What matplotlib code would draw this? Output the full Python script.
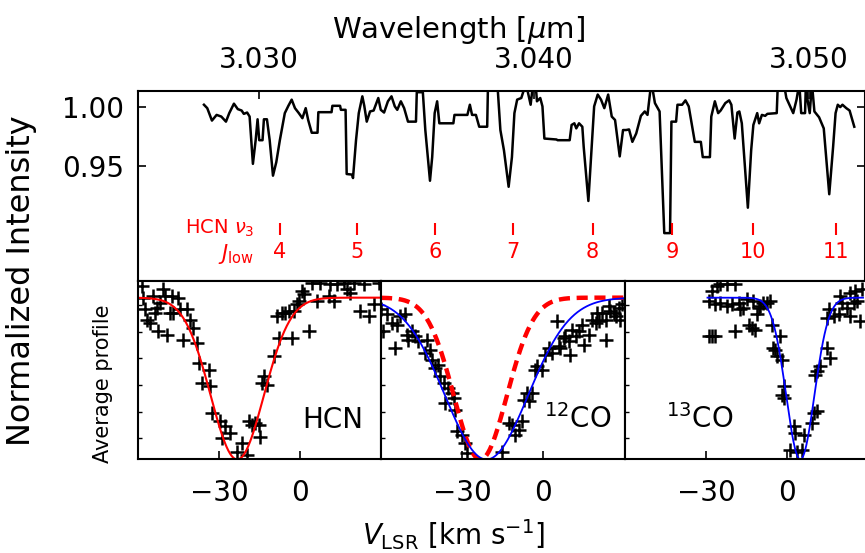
import numpy as np
import matplotlib.pyplot as plt

plt.rcParams["font.family"] = "DejaVu Sans"
plt.rcParams["mathtext.fontset"] = "dejavusans"

# ---- top panel: spectrum around 3.03-3.05 micron ----
wave = [3.02800, 3.02812, 3.02829, 3.02846, 3.02863, 3.02880, 3.02892, 3.02909, 3.02923, 3.02937,
        3.02945, 3.02957, 3.02966, 3.02978, 3.02988, 3.02995, 3.03001, 3.03013, 3.03018, 3.03029,
        3.03039, 3.03051, 3.03063, 3.03076, 3.03094, 3.03107, 3.03119, 3.03131, 3.03145, 3.03158,
        3.03170, 3.03179, 3.03192, 3.03213, 3.03216, 3.03264, 3.03267, 3.03295, 3.03298, 3.03315,
        3.03319, 3.03339, 3.03342, 3.03353, 3.03363, 3.03376, 3.03383, 3.03392, 3.03404, 3.03417,
        3.03434, 3.03443, 3.03455, 3.03469, 3.03482, 3.03494, 3.03503, 3.03516, 3.03528, 3.03542,
        3.03571, 3.03574, 3.03596, 3.03605, 3.03622, 3.03630, 3.03639, 3.03648, 3.03656, 3.03707,
        3.03711, 3.03758, 3.03767, 3.03775, 3.03789, 3.03801, 3.03830, 3.03833, 3.03867, 3.03878,
        3.03891, 3.03908, 3.03920, 3.03929, 3.03939, 3.03954, 3.03971, 3.03988, 3.03997, 3.04006,
        3.04011, 3.04023, 3.04031, 3.04038, 3.04082, 3.04086, 3.04130, 3.04137, 3.04147, 3.04154,
        3.04164, 3.04176, 3.04181, 3.04198, 3.04210, 3.04219, 3.04232, 3.04244, 3.04256, 3.04270,
        3.04283, 3.04295, 3.04312, 3.04324, 3.04335, 3.04346, 3.04358, 3.04372, 3.04389, 3.04403,
        3.04413, 3.04423, 3.04428, 3.04440, 3.04457, 3.04474, 3.04495, 3.04500, 3.04517, 3.04522,
        3.04539, 3.04551, 3.04563, 3.04585, 3.04607, 3.04614, 3.04640, 3.04645, 3.04658, 3.04670,
        3.04679, 3.04696, 3.04710, 3.04718, 3.04730, 3.04740, 3.04747, 3.04756, 3.04778, 3.04790,
        3.04798, 3.04812, 3.04819, 3.04829, 3.04841, 3.04849, 3.04883, 3.04887, 3.04909, 3.04918,
        3.04935, 3.04943, 3.04955, 3.04965, 3.04972, 3.04986, 3.04989, 3.04994, 3.05003, 3.05011,
        3.05020, 3.05037, 3.05054, 3.05074, 3.05088, 3.05097, 3.05105, 3.05114, 3.05122, 3.05136,
        3.05148, 3.05165]
flux = [1.0020, 0.9991, 0.9886, 0.9934, 0.9920, 0.9877, 0.9949, 1.0029, 0.9983, 0.9971,
        0.9943, 0.9954, 0.9920, 0.9520, 0.9720, 0.9897, 0.9720, 0.9720, 0.9897, 0.9897,
        0.9720, 0.9420, 0.9534, 0.9720, 0.9949, 1.0011, 1.0063, 0.9991, 0.9949, 0.9906,
        0.9991, 0.9891, 0.9783, 0.9783, 0.9957, 0.9957, 1.0011, 1.0011, 0.9977, 0.9977,
        0.9434, 0.9429, 0.9400, 0.9720, 0.9949, 1.0091, 1.0011, 0.9877, 0.9963, 0.9971,
        1.0077, 0.9977, 0.9954, 1.0049, 1.0091, 1.0006, 0.9977, 1.0049, 0.9991, 0.9877,
        0.9877, 1.0126, 1.0126, 0.9806, 0.9377, 0.9577, 0.9949, 1.0049, 0.9863, 0.9863,
        0.9934, 0.9934, 1.0020, 0.9934, 0.9934, 0.9834, 0.9834, 1.0200, 1.0200, 0.9806,
        0.9634, 0.9326, 0.9577, 0.9949, 1.0063, 1.0077, 1.0200, 1.0020, 1.0200, 1.0200,
        1.0049, 1.0077, 1.0006, 0.9734, 0.9726, 0.9720, 0.9720, 0.9849, 0.9863, 0.9820,
        0.9863, 0.9834, 0.9663, 0.9206, 0.9663, 1.0006, 1.0106, 1.0063, 0.9991, 1.0106,
        0.9920, 0.9891, 0.9583, 0.9806, 0.9806, 0.9811, 0.9706, 0.9777, 0.9926, 0.9963,
        0.9934, 1.0134, 1.0200, 1.0034, 0.9963, 0.8934, 0.8934, 0.9877, 0.9877, 1.0020,
        1.0020, 1.0057, 1.0006, 0.9706, 0.9706, 0.9577, 0.9577, 0.9920, 1.0049, 0.9949,
        0.9971, 1.0034, 1.0057, 1.0020, 0.9734, 0.9954, 0.9963, 0.9863, 0.9149, 0.9634,
        0.9849, 0.9949, 0.9863, 0.9934, 0.9926, 0.9943, 0.9949, 1.0200, 1.0200, 1.0077,
        0.9991, 0.9949, 1.0063, 1.0200, 0.9949, 0.9949, 1.0200, 1.0077, 0.9949, 1.0200,
        0.9963, 0.9914, 0.9820, 0.9263, 0.9663, 0.9949, 1.0020, 1.0000, 1.0020, 0.9991,
        0.9971, 0.9834]

# HCN nu3 line positions and J_low
line_wave = [3.03076, 3.03358, 3.03642, 3.03925, 3.04213, 3.04503, 3.04798, 3.05097]
line_j = [4, 5, 6, 7, 8, 9, 10, 11]

# ---- bottom panels: average line profiles ----
hcn_v = [-58.6, -58.0, -57.4, -56.8, -55.6, -54.3, -53.7, -53.1, -52.5, -51.9,
         -50.6, -50.0, -49.4, -48.2, -47.5, -46.9, -45.1, -44.4, -43.2, -42.0,
         -40.7, -39.5, -38.3, -37.6, -36.4, -33.9, -33.3, -32.7, -29.6, -27.8,
         -25.9, -29.0, -23.5, -21.6, -19.8, -19.1, -17.9, -16.7, -15.4, -14.8,
         -14.2, -13.6, -12.3, -9.9, -8.6, -8.0, -6.8, -5.6, -4.3, -3.1,
         -2.5, -1.2, -0.6, 0.6, 1.2, 3.1, 4.3, 6.2, 7.4, 10.5,
         11.1, 12.3, 13.6, 16.0, 17.3, 18.5, 19.8, 22.2, 23.5, 25.3,
         27.2, 29.0]
hcn_y = [1.072, 1.000, 0.927, 0.865, 0.845, 1.010, 0.907, 0.938, 0.793, 0.969,
         1.051, 1.010, 0.772, 0.907, 1.010, 0.907, 1.000, 0.927, 0.741, 0.927,
         0.865, 0.814, 0.721, 0.597, 0.473, 0.555, 0.452, 0.286, 0.235, 0.204,
         0.162, 0.131, 0.049, 0.100, 0.028, 0.235, 0.214, 0.224, 0.214, 0.142,
         0.473, 0.514, 0.462, 0.638, 0.886, 0.752, 0.907, 0.907, 0.917, 0.752,
         0.917, 0.958, 0.979, 1.041, 1.020, 0.793, 1.093, 0.979, 1.093, 1.010,
         1.083, 0.979, 1.083, 1.093, 1.051, 1.031, 1.093, 0.917, 1.083, 0.886,
         0.958, 1.093]

co12_v = [-60.0, -59.1, -57.9, -56.0, -54.8, -54.2, -52.9, -51.1, -50.5, -49.9,
          -48.6, -47.4, -46.2, -43.7, -43.1, -41.9, -41.2, -40.0, -38.8, -38.1,
          -36.9, -36.3, -35.1, -33.8, -33.2, -32.6, -32.0, -30.1, -28.9, -28.3,
          -15.3, -12.8, -11.6, -10.4, -9.1, -7.9, -7.3, -6.1, -5.4, -4.2,
          -3.0, -2.3, -0.5, 0.7, 2.0, 3.2, 5.1, 5.7, 6.3, 7.5,
          8.1, 9.4, 10.0, 10.6, 11.9, 13.1, 14.3, 14.9, 16.8, 18.0,
          19.3, 19.9, 20.5, 21.7, 23.0, 23.0, 24.2, 24.8, 26.1, 26.7,
          27.9, 28.5, 29.1]
co12_y = [0.927, 0.793, 0.896, 0.845, 0.690, 0.834, 0.886, 0.896, 0.772, 0.741,
          0.793, 0.762, 0.731, 0.659, 0.741, 0.679, 0.617, 0.566, 0.586, 0.514,
          0.473, 0.348, 0.442, 0.410, 0.379, 0.307, 0.173, 0.152, 0.100, 0.038,
          0.049, 0.224, 0.214, 0.152, 0.183, 0.235, 0.369, 0.410, 0.359, 0.410,
          0.555, 0.576, 0.555, 0.648, 0.690, 0.659, 0.855, 0.700, 0.690, 0.752,
          0.762, 0.731, 0.648, 0.803, 0.762, 0.793, 0.834, 0.710, 0.772, 0.865,
          0.845, 0.907, 0.855, 0.907, 0.741, 0.865, 0.948, 0.917, 0.907, 0.886,
          0.938, 0.865, 0.958]

co13_v = [-29.1, -27.9, -26.7, -27.9, -26.0, -24.8, -22.4, -19.3, -29.1, -26.7,
          -24.8, -22.4, -20.5, -19.3, -18.0, -17.4, -16.2, -14.9, -14.3, -13.1,
          -12.5, -11.8, -11.2, -10.6, -10.0, -8.8, -7.5, -6.3, -5.7, -5.1,
          -4.4, -3.8, -2.6, -2.0, -1.4, -2.0, -1.4, 2.3, 3.0, 1.1,
          3.6, 5.4, 6.1, 9.1, 9.8, 11.0, 10.4, 11.0, 12.2, 14.7,
          15.9, 14.7, 15.3, 17.2, 19.0, 19.6, 20.2, 22.1, 23.3, 23.3,
          24.6, 25.2, 25.8, 27.0, 27.7]
co13_y = [0.762, 0.762, 0.762, 1.041, 1.072, 1.083, 1.083, 1.083, 0.979, 0.958,
          0.969, 0.948, 0.958, 0.793, 0.969, 0.927, 0.938, 0.989, 0.834, 0.814,
          0.979, 0.803, 0.896, 0.938, 0.948, 0.969, 0.969, 0.979, 0.834, 0.690,
          0.679, 0.638, 0.762, 0.617, 0.452, 0.400, 0.379, 0.204, 0.162, 0.059,
          0.049, 0.059, 0.152, 0.224, 0.286, 0.297, 0.524, 0.545, 0.576, 0.690,
          0.628, 0.876, 0.927, 0.886, 0.896, 1.010, 0.969, 0.938, 0.886, 1.031,
          0.969, 1.041, 0.979, 0.855, 1.051]

# gaussian fits: (centre km/s, sigma km/s)
hcn_fit = (-23.3, 9.8)
co12_fit = (-21.0, 15.3)
co13_fit = (4.8, 5.2)


def gauss(v, c, s):
    return 1.0 - np.exp(-0.5 * ((v - c) / s) ** 2)


fig = plt.figure(figsize=(8.65, 5.53), dpi=100)

# ---- top spectrum ----
ax_top = fig.add_axes([0.1595, 0.4910, 0.8405, 0.3444])
ax_top.plot(wave, flux, color="black", lw=1.8)
ax_top.set_xlim(3.0256, 3.05204)
ax_top.set_ylim(0.8525, 1.0136)
ax_top.xaxis.tick_top()
ax_top.set_xticks([3.030, 3.040, 3.050])
ax_top.set_xticklabels(["3.030", "3.040", "3.050"])
ax_top.set_yticks([0.95, 1.00])
ax_top.set_yticklabels(["0.95", "1.00"])
ax_top.tick_params(axis="x", direction="in", length=6, width=1.2, labelsize=20, pad=12,
                   top=True, bottom=False)
ax_top.tick_params(axis="y", direction="in", length=6, width=1.2, labelsize=20, pad=10,
                   left=True, right=True)
for sp in ax_top.spines.values():
    sp.set_linewidth(1.5)

# HCN line markers
ax_top.vlines(line_wave, 0.8915, 0.9017, color="red", lw=1.5)
for w, j in zip(line_wave, line_j):
    ax_top.text(w, 0.8771, str(j), color="red", fontsize=15, ha="center", va="center")
ax_top.text(3.02982, 0.8975, r"HCN $\nu_3$", color="red", fontsize=14, ha="right", va="center")
ax_top.text(3.02982, 0.8760, r"$J_{\rm low}$", color="red", fontsize=15, ha="right", va="center")

# ---- bottom profile panels ----
panels = [
    (hcn_v, hcn_y, "HCN", 12.0),
    (co12_v, co12_y, r"$^{12}$CO", 12.8),
    (co13_v, co13_y, r"$^{13}$CO", -32.2),
]
lefts = [0.1595, 0.4405, 0.7225]
v_full = np.linspace(-60, 30, 400)
axes_bot = []
for (vv, yy, name, tx), left in zip(panels, lefts):
    ax = fig.add_axes([left, 0.1691, 0.2815, 0.3219])
    ax.plot(vv, yy, "+", color="black", ms=10, mew=1.8, clip_on=True)
    ax.set_xlim(-60, 30)
    ax.set_ylim(0, 1.1)
    ax.set_xticks([-30, 0])
    ax.set_yticks([0.13, 0.295, 0.46, 0.625, 0.79, 0.955])
    ax.set_yticklabels([])
    ax.tick_params(axis="x", direction="in", length=6, width=1.2, labelsize=20, pad=14)
    ax.tick_params(axis="y", direction="in", length=3, width=1.0)
    for sp in ax.spines.values():
        sp.set_linewidth(1.5)
    ax.text(tx, 0.195, name, fontsize=20, ha="center", va="baseline")
    axes_bot.append(ax)

# HCN fit
axes_bot[0].plot(v_full, gauss(v_full, *hcn_fit), color="red", lw=1.5)
# 12CO fit with HCN fit for comparison
axes_bot[1].plot(v_full, gauss(v_full, *hcn_fit), color="red", lw=3.2, ls=(0, (2.5, 1.5)))
axes_bot[1].plot(v_full, gauss(v_full, *co12_fit), color="blue", lw=1.3)
# 13CO fit
v13 = np.linspace(-29.5, 28, 300)
axes_bot[2].plot(v13, gauss(v13, *co13_fit), color="blue", lw=1.3)

# labels
fig.text(0.530, 0.946, r"Wavelength [$\mu$m]", fontsize=21, ha="center", va="center")
fig.text(0.524, 0.033, r"$V_{\rm LSR}$ [km s$^{-1}$]", fontsize=20, ha="center", va="center")
fig.text(0.0254, 0.4919, "Normalized Intensity", fontsize=23, rotation=90, ha="center", va="center")
fig.text(0.119, 0.3056, "Average profile", fontsize=15, rotation=90, ha="center", va="center")

fig.savefig("out.png", dpi=100)
